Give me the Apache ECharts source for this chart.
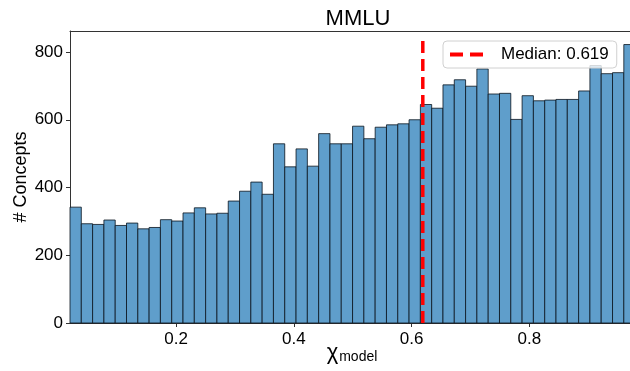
<!DOCTYPE html>
<html>
<head>
<meta charset="utf-8">
<script src="https://cdn.jsdelivr.net/npm/echarts@6/dist/echarts.min.js"></script>
<style>html,body{margin:0;padding:0;background:#fff}#c{width:630px;height:371px}</style>
</head>
<body>
<div id="c"></div>
<script>
const title = 'MMLU';
const binStart = 0.020;
const binWidth = 0.01919;
const counts = [342,293,291,304,288,295,278,282,305,301,325,340,322,324,360,389,416,380,529,461,
                514,463,559,529,529,581,544,578,585,588,600,645,634,703,718,699,750,676,678,601,
                671,656,658,660,660,685,760,736,739,822];
const median = 0.619;
const medianLabel = 'Median: 0.619';
const xTicks = [0.2, 0.4, 0.6, 0.8];
const yTicks = [0, 200, 400, 600, 800];
const xMin = 0.020;
const xMax = 0.9708;   // visible right edge (figure is cropped)
const yMax = 862;

const F = 'Liberation Sans, Arial, sans-serif';
const bins = counts.map((c, i) => [binStart + i * binWidth, binStart + (i + 1) * binWidth, c]);

const chart = echarts.init(document.getElementById('c'), null, {renderer: 'canvas'});
chart.setOption({
  animation: false,
  title: {text: title, left: 353, top: 3, textAlign: 'center',
    textStyle: {fontFamily: F, fontSize: 22, fontWeight: 'normal', color: '#000'}},
  grid: {left: 70, right: 0, top: 31, bottom: 48, show: false},
  legend: {
    left: 443, top: 41, padding: [5, 8, 5, 7], itemWidth: 33, itemHeight: 4,
    backgroundColor: 'rgba(255,255,255,0.8)', borderColor: '#d0d0d0', borderWidth: 1, borderRadius: 4,
    data: [{name: medianLabel, icon: 'path://M0,0H13V4H0Z M20,0H33V4H20Z', itemStyle: {color: '#ff0000'}}],
    textStyle: {fontFamily: F, fontSize: 17, color: '#000', padding: [0, 0, 0, 13]}
  },
  xAxis: [{
    type: 'value', min: xMin, max: xMax, position: 'bottom',
    splitLine: {show: false},
    axisLine: {show: true, onZero: false, lineStyle: {color: '#333', width: 1}},
    axisTick: {show: true, length: 4, customValues: xTicks, lineStyle: {color: '#333'}},
    axisLabel: {customValues: xTicks, margin: 8, fontFamily: F, fontSize: 17, color: '#000',
      formatter: v => v.toFixed(1)}
  }, {
    type: 'value', min: xMin, max: xMax, position: 'top',
    splitLine: {show: false},
    axisLine: {show: true, onZero: false, lineStyle: {color: '#333', width: 1}},
    axisTick: {show: false}, axisLabel: {show: false}
  }],
  yAxis: {
    type: 'value', min: 0, max: yMax,
    splitLine: {show: false},
    axisLine: {show: true, lineStyle: {color: '#333', width: 1}},
    axisTick: {show: true, length: 4, customValues: yTicks, lineStyle: {color: '#333'}},
    axisLabel: {customValues: yTicks, margin: 7, fontFamily: F, fontSize: 17, color: '#000'}
  },
  graphic: [
    {type: 'text', x: 21, y: 177, rotation: Math.PI / 2,
      style: {text: '# Concepts', fontFamily: F, fontSize: 18, fill: '#000', align: 'center', verticalAlign: 'middle'}},
    {type: 'text', x: 352, y: 353,
      style: {text: '{a|χ}{b|model}', align: 'center', verticalAlign: 'middle',
        rich: {a: {fontFamily: F, fontSize: 22, fill: '#000'},
               b: {fontFamily: F, fontSize: 14, fill: '#000', padding: [9, 0, 0, 1]}}}}
  ],
  series: [
    {
      type: 'custom', name: 'hist', clip: false, xAxisIndex: 0,
      data: bins,
      encode: {x: [0, 1], y: 2},
      renderItem: function (params, api) {
        const p0 = api.coord([api.value(0), api.value(2)]);
        const p1 = api.coord([api.value(1), 0]);
        return {type: 'rect', shape: {x: p0[0], y: p0[1], width: p1[0] - p0[0], height: p1[1] - p0[1]},
          style: {fill: '#5f9ecb', stroke: 'rgba(10,20,30,0.8)', lineWidth: 1}};
      },
      z: 2
    },
    {
      type: 'line', name: medianLabel, xAxisIndex: 0, data: [[median, 0], [median, yMax - 12]],
      symbol: 'none', z: 5,
      lineStyle: {color: '#ff0000', width: 3.5, type: [12, 6]},
      itemStyle: {color: '#ff0000'}
    }
  ]
});
</script>
</body>
</html>
